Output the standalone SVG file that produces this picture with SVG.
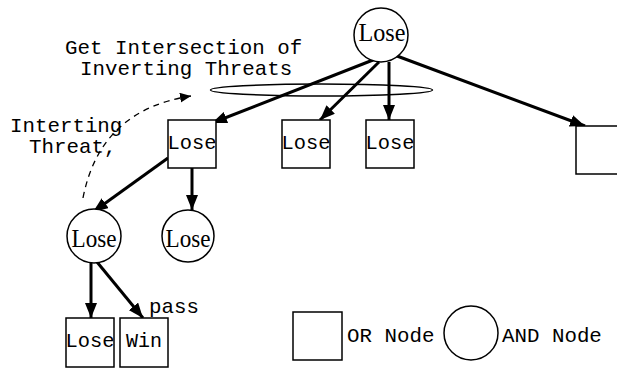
<svg xmlns="http://www.w3.org/2000/svg" width="617" height="369" viewBox="0 0 617 369">
<style>
.bg{fill:#fff}
.shape{fill:#fff;stroke:#000;stroke-width:1.5}
.mono{font-family:"Liberation Mono","Courier New",monospace;font-size:20.8px;fill:#000}
.boxt{font-family:"Liberation Mono","Courier New",monospace;font-size:20px;fill:#000;text-anchor:middle}
.circt{font-family:"Liberation Serif","Times New Roman",serif;font-size:26px;fill:#000;text-anchor:middle}
.edge{stroke:#000;stroke-width:3;fill:none;marker-end:url(#ah)}
.dash{stroke:#000;stroke-width:1.3;fill:none;stroke-dasharray:6,5;marker-end:url(#dh)}
</style>
<defs>
<marker id="ah" markerUnits="userSpaceOnUse" markerWidth="16" markerHeight="12" refX="15" refY="6" orient="auto">
<path d="M0,0 L15,6 L0,12 z" fill="#000"/>
</marker>
<marker id="dh" markerUnits="userSpaceOnUse" markerWidth="12" markerHeight="10" refX="11" refY="5" orient="auto">
<path d="M0,0 L11,5 L0,10 z" fill="#000"/>
</marker>
</defs>
<rect class="bg" x="0" y="0" width="617" height="369"/>

<g id="connectors">
<path class="edge" d="M373,60 L212,123"/>
<path class="edge" d="M379,62 L320,120"/>
<path class="edge" d="M389,62 L389,120"/>
<path class="edge" d="M397,56 L585,126"/>
<path class="edge" d="M168,158 L93,212"/>
<path class="edge" d="M192,168 L192,210"/>
<path class="edge" d="M91,263 L91,318"/>
<path class="edge" d="M97,262 L143,318"/>
<path class="dash" d="M83,198 Q100,110 191,96"/>
</g>

<g id="intersection">
<ellipse class="shape" style="fill:none" cx="321.5" cy="90" rx="111" ry="6"/>
<text class="mono" x="65" y="54">Get Intersection of</text>
<text class="mono" x="80" y="75">Inverting Threats</text>
</g>

<g id="threat-label">
<text class="mono" x="10" y="132">Interting</text>
<text class="mono" x="29" y="153">Threat,</text>
</g>

<g id="root">
<circle class="shape" cx="381" cy="35" r="27"/>
<text class="circt" x="382" y="41" textLength="47" lengthAdjust="spacingAndGlyphs">Lose</text>
</g>

<g id="or-left">
<rect class="shape" x="168" y="120" width="48" height="48"/>
<text class="boxt" x="192" y="149" textLength="49" lengthAdjust="spacingAndGlyphs">Lose</text>
</g>

<g id="or-mid1">
<rect class="shape" x="282" y="120" width="48" height="48"/>
<text class="boxt" x="306" y="149" textLength="49" lengthAdjust="spacingAndGlyphs">Lose</text>
</g>

<g id="or-mid2">
<rect class="shape" x="366" y="120" width="48" height="48"/>
<text class="boxt" x="390" y="149" textLength="49" lengthAdjust="spacingAndGlyphs">Lose</text>
</g>

<g id="or-right">
<rect class="shape" x="576" y="126" width="52" height="48"/>
</g>

<g id="and-left">
<circle class="shape" cx="94" cy="236" r="27"/>
<text class="circt" x="94" y="247" textLength="45" lengthAdjust="spacingAndGlyphs">Lose</text>
</g>

<g id="and-right">
<circle class="shape" cx="188" cy="236" r="26"/>
<text class="circt" x="188" y="247" textLength="45" lengthAdjust="spacingAndGlyphs">Lose</text>
</g>

<g id="or-bottom-lose">
<rect class="shape" x="66" y="318" width="48" height="49"/>
<text class="boxt" x="90" y="347" textLength="49" lengthAdjust="spacingAndGlyphs">Lose</text>
</g>

<g id="or-bottom-win">
<rect class="shape" x="120" y="318" width="48" height="49"/>
<text class="boxt" x="144" y="347">Win</text>
</g>

<g id="pass-label">
<text class="mono" x="149" y="313">pass</text>
</g>

<g id="legend-or">
<rect class="shape" x="293" y="312" width="49" height="48"/>
<text class="mono" x="347" y="342">OR Node</text>
</g>

<g id="legend-and">
<circle class="shape" cx="471" cy="333" r="27"/>
<text class="mono" x="502" y="342">AND Node</text>
</g>
</svg>
